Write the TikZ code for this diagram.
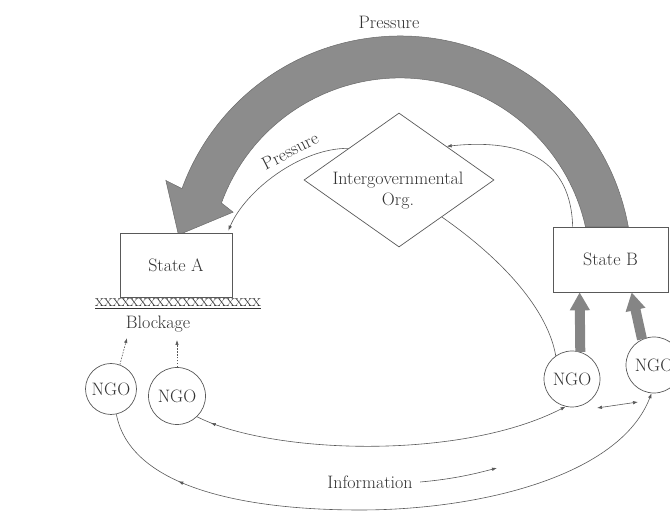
\documentclass[tikz,border=0pt]{standalone}
\usetikzlibrary{arrows.meta,calc,shapes.geometric,decorations.markings}
\begin{document}
\begin{tikzpicture}[x=1pt,y=1pt,
  every node/.style={font=\fontsize{18}{21}\selectfont, text=black!80},
  ln/.style={draw=black!65, line width=0.6pt},
  tipend/.style={-{Latex[length=5pt,width=3.5pt]}},
  dots/.style={dash pattern=on 1.6pt off 1.3pt},
  box/.style={draw=black!65, line width=0.7pt, fill=white, inner sep=0pt},
  ngo/.style={circle, draw=black!65, line width=0.7pt, fill=white, inner sep=0pt, minimum size=#1},
  fatarrow/.style={draw=black!48, line width=10pt, -{Triangle[width=19pt,length=18pt]}},
  band/.style={fill=black!45, draw=black!58, line width=0.5pt},
  leftmark/.style={postaction={decorate}, decoration={markings, mark=at position #1 with {\arrow{Latex[length=5pt,width=3.5pt,reversed]}}}}
]
\useasboundingbox (0,0) rectangle (670,516);

% big pressure band
\coordinate (C) at (400,248);
\path[band] ([shift={(C)}]10.2:232) arc[start angle=10.2, end angle=160, radius=232]
  -- ([shift={(C)}]159.5:250) -- ([shift={(C)}]171.5:224) -- ([shift={(C)}]161.5:176)
  -- ([shift={(C)}]160:190) arc[start angle=160, end angle=12.5, radius=190] -- cycle;
\node (ptop) at (389,494) {Pressure};

% boxes
\node[box, minimum width=112pt, minimum height=64pt] (A) at (176,251) {State A};
\node[box, minimum width=115pt, minimum height=65pt] (B) at (610.5,256.5) {State B};

% diamond
\node[diamond, draw=black!65, line width=0.7pt, fill=white, inner sep=0pt,
      minimum width=190pt, minimum height=134pt] (igo) at (399,336) {};
\node[align=center, inner sep=0pt] (igot) at (398,325) {Intergovernmental\\[0pt]Org.};

% blockage
\node (xx) at (178,212) {\underline{xxxxxxxxxxxxxxxxxxx}};
\node (blk) at (158,192) {Blockage};

% NGOs
\node[ngo=51pt] (n1) at (111,127) {NGO};
\node[ngo=57pt] (n2) at (177,120) {NGO};
\node[ngo=56pt] (n3) at (572,137) {NGO};
\node[ngo=56pt] (n4) at (654,151) {NGO};

% thin pressure arrow from IGO to State A
\coordinate (p1) at ($(igo.west)!0.47!(igo.north)$);
\coordinate (pA) at ($(A.north east)+(-4,2)$);
\draw[ln, tipend] (p1) .. controls (300,368) and (245,325) .. (pA);
\node[rotate=27] (plab) at (290,365) {Pressure};

% State B to IGO
\coordinate (pB) at ($(B.north west)+(20,0)$);
\coordinate (p2) at ($(igo.north)!0.5!(igo.east)$);
\draw[ln, tipend] (pB) .. controls (571,355) and (525,378) .. (p2);

% IGO to NGO3
\coordinate (p3) at ($(igo.east)!0.55!(igo.south)$);
\draw[ln] (p3) .. controls (505,255) and (548,205) .. (n3.125);

% fat arrows NGO -> State B
\coordinate (b3) at ($(B.south west)+(27,0)$);
\coordinate (b4) at ($(B.south west)+(79,0)$);
\draw[fatarrow] (n3.73) -- (b3);
\draw[fatarrow] (n4.115) -- (b4);

% NGO -> blockage
\coordinate (k1) at (127,178);
\coordinate (k2) at (177,176);
\draw[ln, dots, tipend] (n1.70) -- (k1);
\draw[ln, dots, tipend] (n2.north) -- (k2);

% middle information curve
\draw[ln, tipend, leftmark=20pt] (n2.-46) .. controls (270,62) and (460,55) .. (n3.-103);

% NGO3 <-> NGO4
\coordinate (q1) at (597,108);
\coordinate (q2) at (638,114);
\draw[ln, {Latex[length=5pt,width=3.5pt]}-{Latex[length=5pt,width=3.5pt]}] (q1) -- (q2);

% outer information curve
\coordinate (bot) at (360,6);
\draw[ln, tipend, leftmark=100pt] (n1.-78) .. controls (130,30) and (240,6) .. (bot)
   .. controls (480,6) and (620,40) .. (n4.-95);

% Information label
\node (info) at (370,34) {Information};
\coordinate (ie) at (497,48);
\draw[ln, tipend] ([xshift=4pt]info.east) .. controls (455,37) and (478,43) .. (ie);
\end{tikzpicture}
\end{document}
